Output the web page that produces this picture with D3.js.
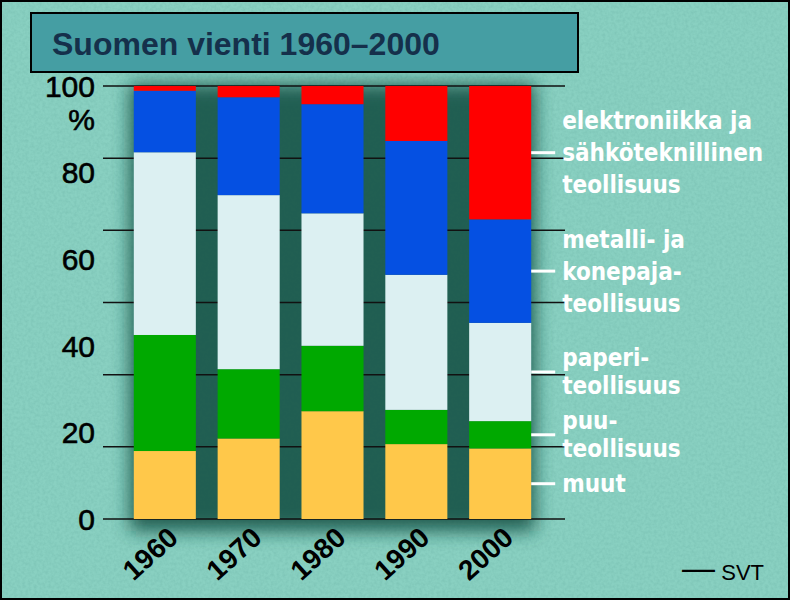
<!DOCTYPE html>
<html>
  <head>
    <meta charset="utf-8">
    <title>Suomen vienti 1960–2000</title>
    <script src="https://d3js.org/d3.v7.min.js"></script>
    <style>
      body{
        margin: 0;
        background: #86cdbf;
      }
    </style>
  </head>
  <body>
    <div id="container"></div>
    <script>

      // DATA (share of exports, %)
      const years = ["1960", "1970", "1980", "1990", "2000"];
      const muut = [15.7, 18.6, 24.9, 17.3, 16.3];
      const puu = [26.8, 16.0, 15.1, 7.9, 6.3];
      const paperi = [42.2, 40.2, 30.6, 31.2, 22.7];
      const metalli = [14.2, 22.6, 25.2, 30.9, 23.9];
      const elektro = [1.1, 2.6, 4.2, 12.7, 30.8];

      const seriesKeys = ["muut", "puu", "paperi", "metalli", "elektro"];
      const seriesLabels = [
        ["muut"],
        ["puu-", "teollisuus"],
        ["paperi-", "teollisuus"],
        ["metalli- ja", "konepaja-", "teollisuus"],
        ["elektroniikka ja", "sähköteknillinen", "teollisuus"]
      ];
      const colors = ["#ffc84a", "#00a900", "#dcf0f2", "#0550e2", "#ff0000"];

      const yTickValues = [0, 20, 40, 60, 80, 100];
      const gridValues = [0, 16.67, 33.33, 50, 66.67, 83.33, 100];
      const title = "Suomen vienti 1960–2000";

      // BUILD TABLE FOR STACK
      const table = years.map((yr, i) => ({
        year: yr, muut: muut[i], puu: puu[i], paperi: paperi[i],
        metalli: metalli[i], elektro: elektro[i]
      }));
      const stacked = d3.stack().keys(seriesKeys)(table);

      // SET DIMENSIONS
      const width = 790, height = 600;

      const svg = d3.select("#container")
        .append("svg")
        .attr("width", width)
        .attr("height", height);

      const defs = svg.append("defs");
      defs.append("filter")
        .attr("id", "shade")
        .attr("x", "-20%").attr("y", "-20%")
        .attr("width", "140%").attr("height", "140%")
        .append("feGaussianBlur")
        .attr("stdDeviation", 9);

      const noise = defs.append("filter").attr("id", "noise");
      noise.append("feTurbulence")
        .attr("type", "fractalNoise")
        .attr("baseFrequency", 0.35)
        .attr("numOctaves", 2)
        .attr("seed", 3);
      noise.append("feColorMatrix")
        .attr("type", "matrix")
        .attr("values", "0 0 0 0 0.1  0 0 0 0 0.35  0 0 0 0 0.3  0 0 0 1.2 -0.4");

      // BACKGROUND
      svg.append("rect")
        .attr("width", width).attr("height", height)
        .attr("fill", "#89d0c1");
      svg.append("rect")
        .attr("width", width).attr("height", height)
        .attr("filter", "url(#noise)")
        .attr("opacity", 0.3);

      // SCALES
      const x = d3.scaleBand()
        .domain(years)
        .range([112, 553])
        .padding(0.26);

      const y = d3.scaleLinear()
        .domain([0, 100])
        .range([519, 86]);

      // DARK SHADE BEHIND BARS
      svg.append("rect")
        .attr("x", x(years[0]) - 4)
        .attr("y", y(100) - 2)
        .attr("width", x(years[years.length - 1]) + x.bandwidth() - x(years[0]) + 8)
        .attr("height", y(0) - y(100) + 14)
        .attr("fill", "#125247")
        .attr("opacity", 0.9)
        .attr("filter", "url(#shade)");

      // GRID LINES
      svg.append("g")
        .selectAll("line")
        .data(gridValues)
        .join("line")
        .attr("x1", 103)
        .attr("x2", 565)
        .attr("y1", d => y(d))
        .attr("y2", d => y(d))
        .attr("stroke", "#111")
        .attr("stroke-width", 1.6);

      // STACKED BARS
      svg.append("g")
        .selectAll("g")
        .data(stacked)
        .join("g")
        .attr("fill", (d, i) => colors[i])
        .selectAll("rect")
        .data(d => d)
        .join("rect")
        .attr("x", d => x(d.data.year))
        .attr("y", d => y(d[1]))
        .attr("width", x.bandwidth())
        .attr("height", d => y(d[0]) - y(d[1]));

      // Y-AXIS LABELS
      const yAxis = svg.append("g")
        .attr("font-family", "'Liberation Sans', Arial, sans-serif")
        .attr("font-size", 30)
        .attr("fill", "#000")
        .attr("stroke", "#000")
        .attr("stroke-width", 0.6);
      yAxis.selectAll("text")
        .data(yTickValues)
        .join("text")
        .attr("x", 95)
        .attr("y", d => y(d))
        .attr("dy", "0.36em")
        .attr("text-anchor", "end")
        .text(d => d);
      yAxis.append("text")
        .attr("x", 95)
        .attr("y", y(100) + 33)
        .attr("dy", "0.36em")
        .attr("text-anchor", "end")
        .text("%");

      // X-AXIS LABELS (rotated)
      svg.append("g")
        .selectAll("text")
        .data(years)
        .join("text")
        .attr("transform", d => "translate(" + (x(d) + x.bandwidth() / 2 + 15) + "," + (y(0) + 21) + ") rotate(-42)")
        .attr("text-anchor", "end")
        .attr("font-family", "'Liberation Sans', Arial, sans-serif")
        .attr("font-weight", "bold")
        .attr("font-size", 28)
        .attr("fill", "#000")
        .text(d => d);

      // RIGHT-SIDE SERIES LABELS, pointing at the 2000 bar segments
      const last = years.length - 1;
      const labelX = x(years[last]) + x.bandwidth();
      const labels = svg.append("g");
      stacked.forEach((s, i) => {
        const mid = y((s[last][0] + s[last][1]) / 2);
        labels.append("line")
          .attr("x1", labelX)
          .attr("x2", labelX + 24)
          .attr("y1", mid)
          .attr("y2", mid)
          .attr("stroke", "#fff")
          .attr("stroke-width", 3);
        const lines = seriesLabels[i];
        const lh = lines.length > 2 ? 32 : 28;
        labels.append("text")
          .attr("font-family", "'DejaVu Sans Condensed', 'DejaVu Sans', sans-serif")
          .attr("font-stretch", "condensed")
          .attr("font-weight", "bold")
          .attr("font-size", 24)
          .attr("fill", "#fff")
          .selectAll("tspan")
          .data(lines)
          .join("tspan")
          .attr("x", labelX + 31)
          .attr("y", (d, k) => mid + (k - (lines.length - 1) / 2) * lh)
          .attr("dy", "0.35em")
          .text(d => d);
      });

      // SOURCE
      const src = svg.append("text")
        .attr("x", 764)
        .attr("y", 580)
        .attr("text-anchor", "end")
        .attr("font-family", "'Liberation Sans', Arial, sans-serif")
        .attr("fill", "#000");
      src.append("tspan").attr("font-size", 33).attr("dy", -1).text("—");
      src.append("tspan").attr("font-size", 22).attr("dy", 1).text(" SVT");

      // TITLE BOX
      svg.append("rect")
        .attr("x", 31).attr("y", 13)
        .attr("width", 547).attr("height", 59)
        .attr("fill", "#459ea3")
        .attr("stroke", "#000")
        .attr("stroke-width", 2);
      svg.append("text")
        .attr("x", 52)
        .attr("y", 55)
        .attr("font-family", "'Liberation Sans', Arial, sans-serif")
        .attr("font-weight", "bold")
        .attr("font-size", 32)
        .attr("fill", "#15304b")
        .text(title);

      // OUTER FRAME
      svg.append("rect")
        .attr("x", 1).attr("y", 1)
        .attr("width", width - 2).attr("height", height - 2)
        .attr("fill", "none")
        .attr("stroke", "#000")
        .attr("stroke-width", 2);

    </script>
  </body>
</html>
